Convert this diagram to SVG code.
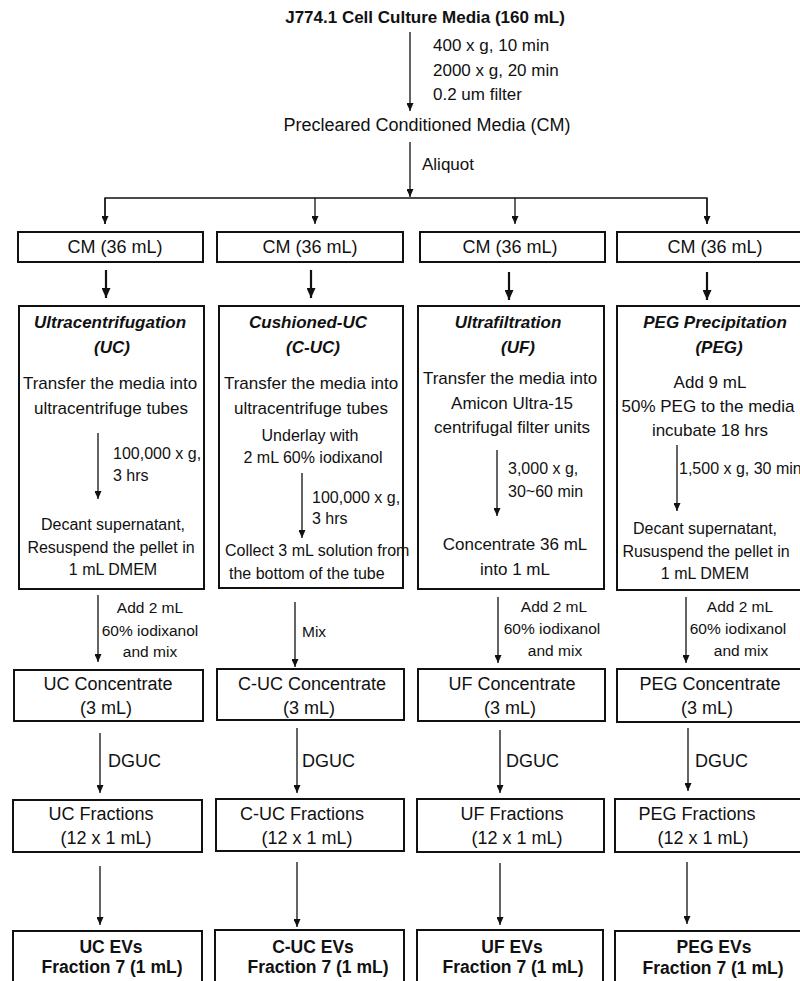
<svg xmlns="http://www.w3.org/2000/svg" width="800" height="981" viewBox="0 0 800 981">
<defs>
<marker id="ah" markerUnits="userSpaceOnUse" markerWidth="8" markerHeight="7" refX="8" refY="3.5" orient="auto"><path d="M0,0 L8,3.5 L0,7 z" fill="#111"/></marker>
<marker id="ahb" markerUnits="userSpaceOnUse" markerWidth="10" markerHeight="9" refX="10" refY="4.5" orient="auto"><path d="M0,0 L10,4.5 L0,9 z" fill="#111"/></marker>
</defs>
<style>
text{font-family:"Liberation Sans",Arial,sans-serif;fill:#111}
.c{text-anchor:middle}
.box{fill:#fff;stroke:#111;stroke-width:2}
.a{stroke:#111;stroke-width:1.3;fill:none;marker-end:url(#ah)}
.ab{stroke:#111;stroke-width:2.2;fill:none;marker-end:url(#ahb)}
.t{font-weight:bold;font-style:italic;font-size:17px}
.f16{font-size:16px}
.f17{font-size:17px}
.f18{font-size:18px}
.f155{font-size:15.5px}
.ev{font-weight:bold;font-size:17.5px}
</style>
<rect width="800" height="981" fill="#fff"/>

<g id="connectors">
<line class="a" x1="410" y1="32" x2="410" y2="111"/>
<line class="a" x1="410" y1="142" x2="410" y2="197"/>
<polyline points="105,224 105,198 707,198 707,224" fill="none" stroke="#111" stroke-width="1.3"/>
<line class="a" x1="105" y1="198" x2="105" y2="224"/>
<line class="a" x1="315" y1="198" x2="315" y2="224"/>
<line class="a" x1="515" y1="198" x2="515" y2="224"/>
<line class="a" x1="707" y1="198" x2="707" y2="224"/>
<line class="ab" x1="106" y1="270" x2="106" y2="298"/>
<line class="ab" x1="311" y1="270" x2="311" y2="298"/>
<line class="ab" x1="509" y1="272" x2="509" y2="300"/>
<line class="ab" x1="707" y1="272" x2="707" y2="300"/>
<line class="a" x1="98" y1="595" x2="98" y2="662"/>
<line class="a" x1="295" y1="602" x2="295" y2="667"/>
<line class="a" x1="498" y1="597" x2="498" y2="663"/>
<line class="a" x1="686" y1="597" x2="686" y2="663"/>
<line class="a" x1="100" y1="733" x2="100" y2="793"/>
<line class="a" x1="297" y1="728" x2="297" y2="793"/>
<line class="a" x1="500" y1="730" x2="500" y2="793"/>
<line class="a" x1="688" y1="728" x2="688" y2="791"/>
<line class="a" x1="100" y1="866" x2="100" y2="925"/>
<line class="a" x1="297" y1="862" x2="297" y2="927"/>
<line class="a" x1="500" y1="863" x2="500" y2="925"/>
<line class="a" x1="687" y1="862" x2="687" y2="924"/>
</g>

<g id="labels">
<text class="f17" x="433" y="51">400 x g, 10 min</text>
<text class="f17" x="433" y="76">2000 x g, 20 min</text>
<text class="f17" x="433" y="100">0.2 um filter</text>
<text class="f17" x="422" y="170">Aliquot</text>
<text class="f155 c" x="150" y="613">Add 2 mL</text>
<text class="f155 c" x="150" y="636">60% iodixanol</text>
<text class="f155 c" x="150" y="657">and mix</text>
<text class="f155" x="302" y="637">Mix</text>
<text class="f155 c" x="554" y="612">Add 2 mL</text>
<text class="f155 c" x="552" y="634">60% iodixanol</text>
<text class="f155 c" x="555" y="656">and mix</text>
<text class="f155 c" x="740" y="612">Add 2 mL</text>
<text class="f155 c" x="738" y="634">60% iodixanol</text>
<text class="f155 c" x="741" y="656">and mix</text>
<text class="f18" x="108" y="767">DGUC</text>
<text class="f18" x="302" y="767">DGUC</text>
<text class="f18" x="506" y="767">DGUC</text>
<text class="f18" x="695" y="767">DGUC</text>
</g>

<g id="source">
<text class="c" x="425" y="23" style="font-weight:bold;font-size:17px">J774.1 Cell Culture Media (160 mL)</text>
</g>
<g id="precleared">
<text class="c f18" x="427" y="131">Precleared Conditioned Media (CM)</text>
</g>

<g id="cm1"><rect class="box" x="18" y="232" width="185" height="30"/><text class="c f18" x="115" y="253">CM (36 mL)</text></g>
<g id="cm2"><rect class="box" x="217" y="232" width="186" height="30"/><text class="c f18" x="310" y="253">CM (36 mL)</text></g>
<g id="cm3"><rect class="box" x="420" y="232" width="185" height="30"/><text class="c f18" x="510" y="253">CM (36 mL)</text></g>
<g id="cm4"><rect class="box" x="617" y="232" width="186" height="30"/><text class="c f18" x="715" y="253">CM (36 mL)</text></g>

<g id="uc">
<rect class="box" x="19" y="306" width="185" height="283"/>
<text class="c t" x="110" y="328">Ultracentrifugation</text>
<text class="c t" x="112" y="353">(UC)</text>
<text class="c f17" x="110" y="389">Transfer the media into</text>
<text class="c f17" x="111" y="414">ultracentrifuge tubes</text>
<line class="a" x1="98" y1="433" x2="98" y2="499"/>
<text class="f16" x="113" y="459">100,000 x g,</text>
<text class="f16" x="113" y="481">3 hrs</text>
<text class="c f16" x="113" y="530">Decant supernatant,</text>
<text class="c f16" x="111" y="553">Resuspend the pellet in</text>
<text class="c f16" x="113" y="575">1 mL DMEM</text>
</g>

<g id="cuc">
<rect class="box" x="219" y="306" width="184" height="282"/>
<text class="c t" x="308" y="328">Cushioned-UC</text>
<text class="c t" x="313" y="353">(C-UC)</text>
<text class="c f17" x="311" y="389">Transfer the media into</text>
<text class="c f17" x="311" y="414">ultracentrifuge tubes</text>
<text class="c f16" x="310" y="441">Underlay with</text>
<text class="c f16" x="313" y="463">2 mL 60% iodixanol</text>
<line class="a" x1="302" y1="473" x2="302" y2="538"/>
<text class="f16" x="312" y="503">100,000 x g,</text>
<text class="f16" x="312" y="524">3 hrs</text>
<text class="f16" x="225" y="556">Collect 3 mL solution from</text>
<text class="f16" x="229" y="579">the bottom of the tube</text>
</g>

<g id="uf">
<rect class="box" x="418" y="306" width="186" height="283"/>
<text class="c t" x="508" y="328">Ultrafiltration</text>
<text class="c t" x="518" y="353">(UF)</text>
<text class="c f17" x="510" y="384">Transfer the media into</text>
<text class="c f17" x="512" y="409">Amicon Ultra-15</text>
<text class="c f17" x="512" y="433">centrifugal filter units</text>
<line class="a" x1="497" y1="450" x2="497" y2="516"/>
<text class="f16" x="508" y="474">3,000 x g,</text>
<text class="f16" x="508" y="497">30~60 min</text>
<text class="c f17" x="515" y="550">Concentrate 36 mL</text>
<text class="c f17" x="515" y="575">into 1 mL</text>
</g>

<g id="peg">
<rect class="box" x="617" y="306" width="186" height="284"/>
<text class="c t" x="715" y="328">PEG Precipitation</text>
<text class="c t" x="719" y="353">(PEG)</text>
<text class="c f17" x="710" y="388">Add 9 mL</text>
<text class="c f17" x="708" y="412">50% PEG to the media</text>
<text class="c f17" x="710" y="436">incubate 18 hrs</text>
<line class="a" x1="677" y1="445" x2="677" y2="511"/>
<text class="f16" x="679" y="474">1,500 x g, 30 min</text>
<text class="c f16" x="705" y="534">Decant supernatant,</text>
<text class="c f16" x="706" y="557">Rususpend the pellet in</text>
<text class="c f16" x="705" y="579">1 mL DMEM</text>
</g>

<g id="ucconc"><rect class="box" x="14" y="670" width="189" height="51"/><text class="c f18" x="108" y="690">UC Concentrate</text><text class="c f18" x="106" y="714">(3 mL)</text></g>
<g id="cucconc"><rect class="box" x="217" y="669" width="187" height="51"/><text class="c f18" x="312" y="690">C-UC Concentrate</text><text class="c f18" x="309" y="714">(3 mL)</text></g>
<g id="ufconc"><rect class="box" x="418" y="669" width="187" height="52"/><text class="c f18" x="512" y="690">UF Concentrate</text><text class="c f18" x="510" y="714">(3 mL)</text></g>
<g id="pegconc"><rect class="box" x="617" y="669" width="186" height="53"/><text class="c f18" x="710" y="690">PEG Concentrate</text><text class="c f18" x="707" y="714">(3 mL)</text></g>

<g id="ucfrac"><rect class="box" x="13" y="800" width="189" height="52"/><text class="c f18" x="101" y="820">UC Fractions</text><text class="c f18" x="106" y="844">(12 x 1 mL)</text></g>
<g id="cucfrac"><rect class="box" x="216" y="799" width="188" height="52"/><text class="c f18" x="302" y="820">C-UC Fractions</text><text class="c f18" x="307" y="844">(12 x 1 mL)</text></g>
<g id="uffrac"><rect class="box" x="417" y="799" width="187" height="53"/><text class="c f18" x="512" y="820">UF Fractions</text><text class="c f18" x="517" y="844">(12 x 1 mL)</text></g>
<g id="pegfrac"><rect class="box" x="615" y="799" width="188" height="53"/><text class="c f18" x="697" y="820">PEG Fractions</text><text class="c f18" x="703" y="844">(12 x 1 mL)</text></g>

<g id="ucev"><rect class="box" x="13" y="931" width="189" height="60"/><text class="c ev" x="111" y="953">UC EVs</text><text class="c ev" x="112" y="973">Fraction 7 (1 mL)</text></g>
<g id="cucev"><rect class="box" x="215" y="930" width="189" height="61"/><text class="c ev" x="313" y="953">C-UC EVs</text><text class="c ev" x="318" y="973">Fraction 7 (1 mL)</text></g>
<g id="ufev"><rect class="box" x="417" y="930" width="186" height="61"/><text class="c ev" x="512" y="953">UF EVs</text><text class="c ev" x="513" y="973">Fraction 7 (1 mL)</text></g>
<g id="pegev"><rect class="box" x="615" y="931" width="188" height="60"/><text class="c ev" x="714" y="953">PEG EVs</text><text class="c ev" x="713" y="974">Fraction 7 (1 mL)</text></g>
</svg>
